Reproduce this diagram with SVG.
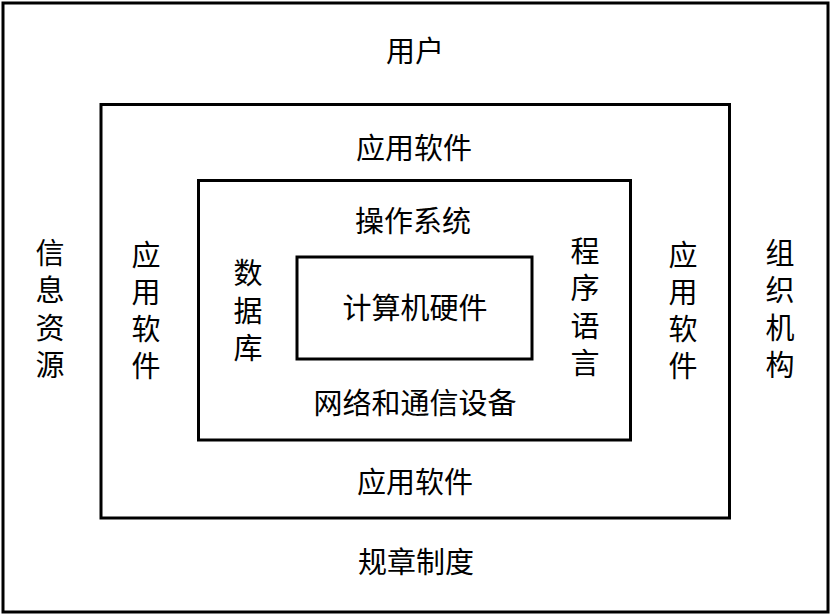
<svg xmlns="http://www.w3.org/2000/svg" width="831" height="615" viewBox="0 0 831 615">
<style>
.box{fill:none;stroke:#000;stroke-width:3}
.t{font-family:"Liberation Sans","Noto Sans CJK SC",sans-serif;font-size:29px;fill:#000;text-anchor:middle;dominant-baseline:central}
</style>
<rect width="831" height="615" fill="#fff"/>
<g id="users">
<rect class="box" x="3" y="3" width="825" height="609"/>
<text class="t" x="415" y="52">用户</text>
<text class="t" x="416" y="563">规章制度</text>
<text class="t" x="50" y="254">信</text>
<text class="t" x="50" y="291">息</text>
<text class="t" x="50" y="329">资</text>
<text class="t" x="50" y="366">源</text>
<text class="t" x="780" y="254">组</text>
<text class="t" x="780" y="291">织</text>
<text class="t" x="780" y="329">机</text>
<text class="t" x="780" y="366">构</text>
</g>
<g id="app-software">
<rect class="box" x="101" y="104.5" width="628.5" height="413.5"/>
<text class="t" x="414" y="149">应用软件</text>
<text class="t" x="415" y="483">应用软件</text>
<text class="t" x="146" y="256">应</text>
<text class="t" x="146" y="293">用</text>
<text class="t" x="146" y="330">软</text>
<text class="t" x="146" y="367">件</text>
<text class="t" x="683" y="256">应</text>
<text class="t" x="683" y="293">用</text>
<text class="t" x="683" y="330">软</text>
<text class="t" x="683" y="367">件</text>
</g>
<g id="os">
<rect class="box" x="198.5" y="180.5" width="432" height="259.5"/>
<text class="t" x="413" y="222">操作系统</text>
<text class="t" x="415" y="404">网络和通信设备</text>
<text class="t" x="248" y="274">数</text>
<text class="t" x="248" y="312">据</text>
<text class="t" x="248" y="349">库</text>
<text class="t" x="585" y="252">程</text>
<text class="t" x="585" y="289">序</text>
<text class="t" x="585" y="327">语</text>
<text class="t" x="585" y="364">言</text>
</g>
<g id="hardware">
<rect class="box" x="297" y="257" width="235" height="102"/>
<text class="t" x="415" y="309">计算机硬件</text>
</g>
<g id="connectors"></g>
</svg>
